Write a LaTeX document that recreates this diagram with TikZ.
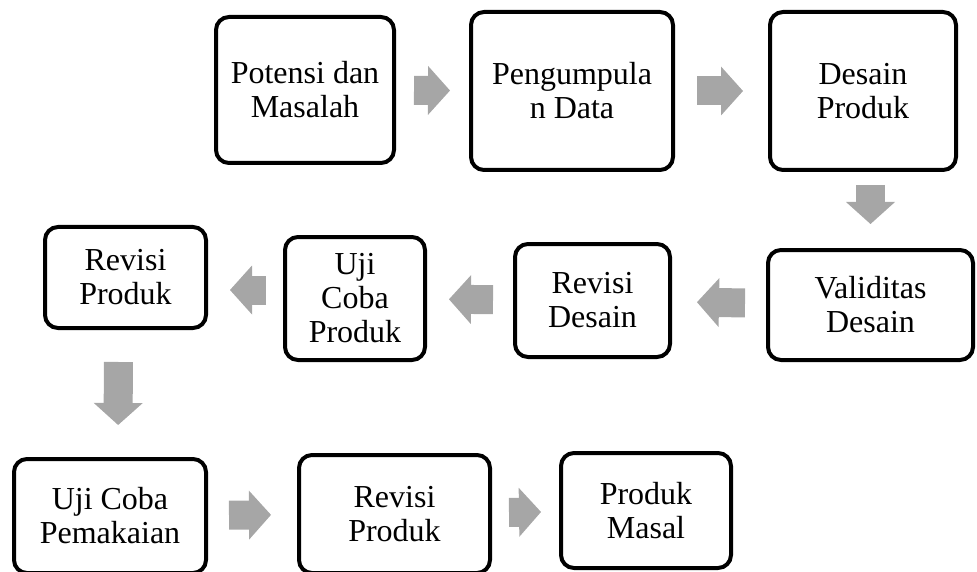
\documentclass[tikz,border=0pt]{standalone}
\usepackage{fontspec}
\setmainfont{Liberation Serif}
\usetikzlibrary{arrows.meta, positioning}
\definecolor{arrowgray}{RGB}{166,166,166}

\begin{document}
\begin{tikzpicture}[
    x=1pt, y=-1pt,
    stage/.style={rectangle, draw=black, line width=4pt, fill=white, rounded corners=13pt,
                  align=center, inner sep=2pt, font=\fontsize{32}{34}\selectfont},
    flow/.style={draw=arrowgray, line width=29pt,
                 -{Triangle[length=22pt, width=49pt, line width=0pt]}}
]
\useasboundingbox (0,0) rectangle (977,572);

\node[stage, minimum width=178pt, minimum height=146pt] (potensi) at (305,90) {Potensi dan\\Masalah};
\node[stage, minimum width=202pt, minimum height=158pt] (kumpul) at (572,91) {Pengumpula\\n Data};
\node[stage, minimum width=186pt, minimum height=158pt] (desain) at (863,91) {Desain\\Produk};

\node[stage, minimum width=205pt, minimum height=110pt] (valid) at (870.5,305) {Validitas\\Desain};
\node[stage, minimum width=155pt, minimum height=113pt] (revdes) at (592.5,300.5) {Revisi\\Desain};
\node[stage, minimum width=140pt, minimum height=123pt] (ujiprod) at (355,298.5) {Uji\\Coba\\Produk};
\node[stage, minimum width=161pt, minimum height=101pt] (revprod) at (125.5,277.5) {Revisi\\Produk};

\node[stage, minimum width=192pt, minimum height=114pt] (ujipakai) at (110,516) {Uji Coba\\Pemakaian};
\node[stage, minimum width=191pt, minimum height=118pt] (revprodb) at (394.5,514) {Revisi\\Produk};
\node[stage, minimum width=170pt, minimum height=115pt] (masal) at (646,510.5) {Produk\\Masal};

\draw[flow, shorten <=18pt, shorten >=19pt] (potensi) -- (kumpul);
\draw[flow, shorten <=22pt, shorten >=25pt] (kumpul) -- (desain);
\draw[flow, shorten <=13pt, shorten >=24pt] (desain.south -| valid.north) -- (valid.north);

\draw[flow, shorten <=21pt, shorten >=25pt] (valid) -- (revdes);
\draw[flow, shorten <=20pt, shorten >=22pt] (revdes) -- (ujiprod);
\draw[flow, shorten <=17pt, shorten >=22pt] ([yshift=8.5pt]ujiprod.west) -- ([yshift=-12.5pt]revprod.east);
\draw[flow, shorten <=32pt, shorten >=32pt] ([xshift=-7pt]revprod.south) -- ([xshift=8pt]ujipakai.north);

\draw[flow, shorten <=21pt, shorten >=26pt] (ujipakai) -- (revprodb);
\draw[flow, shorten <=17pt, shorten >=18pt] (revprodb) -- (masal);
\end{tikzpicture}
\end{document}
